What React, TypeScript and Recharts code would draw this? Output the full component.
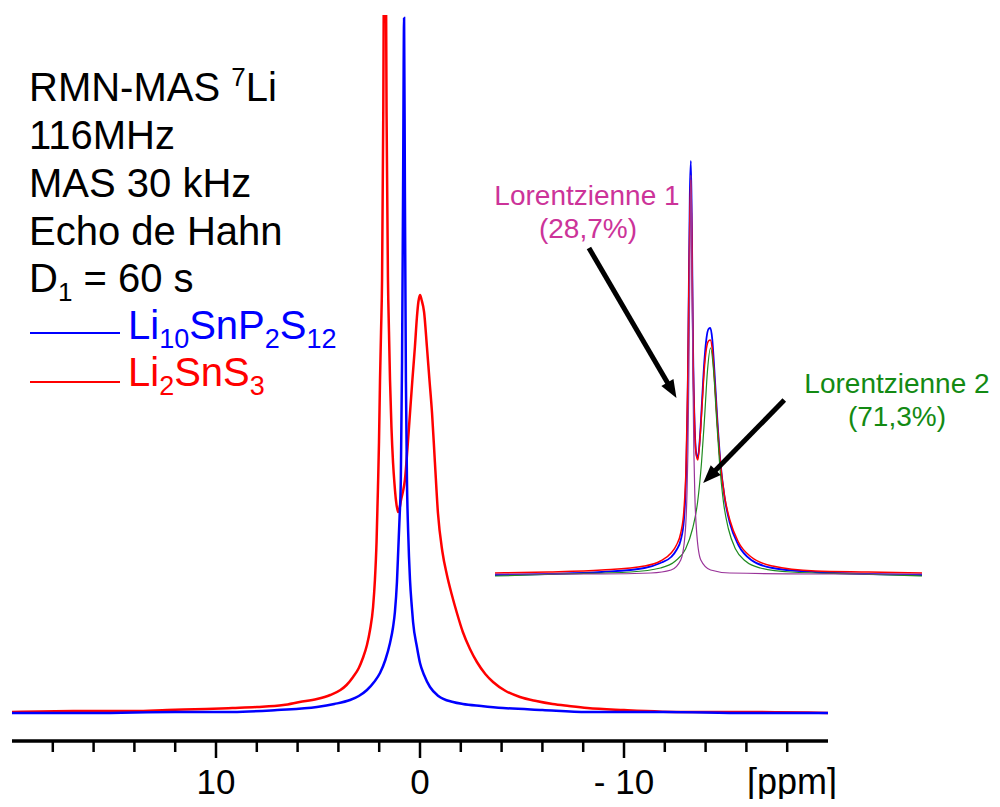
import React from "react";
import { LineChart, Line, XAxis, YAxis, ReferenceLine } from "recharts";

// 7Li MAS NMR spectra: [ppm, intensity]
const li10Main = [
  [20, -1], [16, -1], [12, 0], [9.2, 0], [7, 2], [5.05, 5], [4.2, 8], [3.43, 12], [3.0, 16],
  [2.6, 22], [2.25, 30], [1.96, 39], [1.7, 52], [1.47, 69], [1.32, 85], [1.23, 100], [1.13, 130],
  [1.06, 165], [1.0, 195], [0.94, 232], [0.88, 350], [0.83, 520], [0.78, 694], [0.74, 520],
  [0.69, 330], [0.64, 232], [0.58, 180], [0.49, 132], [0.4, 105], [0.34, 90], [0.15, 65], [0, 49],
  [-0.2, 37], [-0.49, 25], [-0.9, 16], [-1.62, 10], [-2.1, 8], [-3, 6], [-4.07, 4], [-6, 2],
  [-8.19, 0], [-12, 0], [-16, -1], [-20, -1],
];

const li2Main = [
  [20, 0], [17, 1], [14, 1], [12.4, 2], [10.5, 3], [9.2, 4], [8, 5], [6.7, 7], [5.9, 10], [5.05, 13],
  [4.4, 17], [3.9, 22], [3.6, 27], [3.28, 35], [3.0, 44], [2.8, 54], [2.6, 67], [2.45, 82], [2.3, 105],
  [2.21, 132], [2.13, 170], [2.06, 225], [2.01, 270], [1.96, 332], [1.91, 380], [1.86, 432], [1.8, 600],
  [1.76, 800], [1.72, 1000], [1.68, 800], [1.64, 600], [1.57, 432], [1.52, 380], [1.47, 332],
  [1.4, 285], [1.32, 249], [1.25, 228], [1.18, 212], [1.08, 200], [1.0, 204], [0.93, 212], [0.84, 220],
  [0.74, 232], [0.62, 262], [0.49, 299], [0.37, 333], [0.25, 365], [0.15, 395], [0.08, 410], [0, 417],
  [-0.08, 412], [-0.2, 400], [-0.34, 365], [-0.46, 333], [-0.59, 299], [-0.73, 250], [-0.88, 199],
  [-1.1, 160], [-1.32, 137], [-1.55, 118], [-1.81, 99], [-2.1, 80], [-2.45, 63], [-2.79, 50],
  [-3.2, 38], [-3.58, 30], [-4.2, 21], [-4.9, 15], [-5.7, 11], [-6.5, 8], [-7.3, 6], [-8.2, 4],
  [-10, 2], [-13.1, 0], [-16, 0], [-20, -1],
];

// inset: decomposition in two lorentzians
const li10Inset = [
  [20, 0], [15, 1], [10, 3], [6, 7], [4.5, 12], [3.5, 18], [3.0, 25], [2.6, 35], [2.3, 55], [2.1, 100],
  [1.95, 180], [1.85, 280], [1.75, 380], [1.65, 414], [1.55, 340], [1.45, 230], [1.3, 150], [1.15, 122],
  [1.0, 117], [0.8, 138], [0.6, 175], [0.4, 212], [0.2, 236], [0.0, 246], [-0.17, 247], [-0.35, 236],
  [-0.55, 205], [-0.8, 160], [-1.1, 115], [-1.5, 78], [-2.0, 52], [-2.8, 30], [-4.0, 15], [-6, 7],
  [-10, 3], [-15, 1], [-20, 0],
];

const fitInset = [
  [20, 2], [15, 3], [10, 5], [6, 9], [4.5, 14], [3.5, 22], [3.0, 30], [2.6, 42], [2.3, 65], [2.1, 110],
  [1.95, 190], [1.85, 280], [1.75, 360], [1.65, 395], [1.55, 330], [1.45, 225], [1.3, 150], [1.15, 120],
  [1.0, 115], [0.8, 136], [0.6, 170], [0.4, 205], [0.2, 226], [0.0, 234], [-0.17, 235], [-0.35, 226],
  [-0.55, 198], [-0.8, 156], [-1.1, 113], [-1.5, 79], [-2.0, 55], [-2.8, 33], [-4.0, 18], [-6, 9],
  [-10, 4], [-15, 3], [-20, 2],
];

const lorentz1 = [
  [20, 1], [10, 1], [5.4, 2], [3.5, 5], [2.6, 15], [2.2, 40], [2.02, 80], [1.93, 123], [1.84, 200],
  [1.74, 320], [1.65, 400], [1.56, 320], [1.46, 200], [1.37, 123], [1.28, 80], [1.09, 40], [0.72, 15],
  [-0.2, 5], [-2, 2], [-10, 1], [-20, 1],
];

const lorentz2 = [
  [20, -1], [14, 1], [7.3, 3], [4.5, 7], [3.1, 14], [2.15, 26], [1.5, 46], [1.02, 73], [0.65, 113],
  [0.37, 157], [0.09, 205], [-0.19, 227], [-0.47, 205], [-0.75, 157], [-1.03, 113], [-1.4, 73],
  [-1.87, 46], [-2.53, 26], [-3.46, 14], [-4.86, 7], [-7.7, 3], [-14, 1], [-20, -1],
];

// arrows in inset coordinates: [ppm, intensity] start -> tip
const arrow1 = [[11.2, 327], [3.0, 177]];
const arrow2 = [[-7.1, 175], [0.5, 92]];

const ppmTicks = [18, 16, 14, 12, 10, 8, 6, 4, 2, 0, -2, -4, -6, -8, -10, -12, -14, -16, -18];
const majorTicks = [10, 0, -10];

const FONT = "'Liberation Sans', Arial, sans-serif";

const toRows = (pts: number[][]) => pts.map(([ppm, v]) => ({ ppm, v }));

function PpmTick({ x, y, payload }: any) {
  const major = majorTicks.includes(payload.value);
  const label = payload.value < 0 ? `- ${Math.abs(payload.value)}` : `${payload.value}`;
  return (
    <g>
      <line x1={x} x2={x} y1={y - 1} y2={y + (major ? 17 : 11)} stroke="#000" strokeWidth={2.5} />
      {major && (
        <text x={x} y={y + 53} textAnchor="middle" fontSize={35} fontFamily={FONT} fill="#000">
          {label}
        </text>
      )}
    </g>
  );
}

function Arrow(props: any) {
  const { x1, y1, x2, y2 } = props;
  const dx = x2 - x1;
  const dy = y2 - y1;
  const len = Math.sqrt(dx * dx + dy * dy);
  const ux = dx / len;
  const uy = dy / len;
  const head = 18;
  const half = 7;
  const bx = x2 - ux * head;
  const by = y2 - uy * head;
  return (
    <g>
      <line x1={x1} y1={y1} x2={bx + ux * 2} y2={by + uy * 2} stroke="#000" strokeWidth={5} />
      <polygon
        points={`${x2},${y2} ${bx - uy * half},${by + ux * half} ${bx + uy * half},${by - ux * half}`}
        fill="#000"
      />
    </g>
  );
}

export default function App() {
  return (
    <div style={{ position: "relative", width: 1000, height: 807, margin: -8, background: "#fff", fontFamily: FONT }}>
      <div style={{ position: "absolute", left: 0, top: 0 }}>
        <LineChart width={1000} height={807} margin={{ top: 15, right: 172, left: 12, bottom: 0 }}>
          <XAxis
            type="number"
            dataKey="ppm"
            domain={[-20, 20]}
            reversed
            allowDataOverflow
            ticks={ppmTicks}
            interval={0}
            height={66}
            tickLine={false}
            tickSize={0}
            tickMargin={0}
            axisLine={{ stroke: "#000", strokeWidth: 3.5 }}
            tick={<PpmTick />}
          />
          <YAxis type="number" domain={[-29, 697]} allowDataOverflow hide />
          <Line data={toRows(li2Main)} dataKey="v" type="monotone" stroke="#ff0000" strokeWidth={2.5} dot={false} isAnimationActive={false} />
          <Line data={toRows(li10Main)} dataKey="v" type="monotone" stroke="#0000ff" strokeWidth={2.5} dot={false} isAnimationActive={false} />
        </LineChart>
      </div>

      <div style={{ position: "absolute", left: 495, top: 150 }}>
        <LineChart width={427} height={435} margin={{ top: 0, right: 0, left: 0, bottom: 0 }}>
          <XAxis type="number" dataKey="ppm" domain={[-20, 20]} reversed allowDataOverflow hide />
          <YAxis type="number" domain={[-10, 425]} allowDataOverflow hide />
          <Line data={toRows(li10Inset)} dataKey="v" type="monotone" stroke="#0000ff" strokeWidth={1.8} dot={false} isAnimationActive={false} />
          <Line data={toRows(fitInset)} dataKey="v" type="monotone" stroke="#ff0000" strokeWidth={1.5} dot={false} isAnimationActive={false} />
          <Line data={toRows(lorentz2)} dataKey="v" type="monotone" stroke="#1f8a1f" strokeWidth={1.2} dot={false} isAnimationActive={false} />
          <Line data={toRows(lorentz1)} dataKey="v" type="monotone" stroke="#993399" strokeWidth={1.2} dot={false} isAnimationActive={false} />
          <ReferenceLine
            segment={[{ x: arrow1[0][0], y: arrow1[0][1] }, { x: arrow1[1][0], y: arrow1[1][1] }]}
            ifOverflow="visible"
            shape={<Arrow />}
          />
          <ReferenceLine
            segment={[{ x: arrow2[0][0], y: arrow2[0][1] }, { x: arrow2[1][0], y: arrow2[1][1] }]}
            ifOverflow="visible"
            shape={<Arrow />}
          />
        </LineChart>
      </div>

      <svg width={1000} height={807} style={{ position: "absolute", left: 0, top: 0, pointerEvents: "none" }} fontFamily={FONT}>
        <g fontSize={40} fill="#000">
          <text x={29} y={101}>
            RMN-MAS <tspan fontSize={26} dy={-15}>7</tspan><tspan dy={15}>Li</tspan>
          </text>
          <text x={29} y={149}>116MHz</text>
          <text x={29} y={197}>MAS 30 kHz</text>
          <text x={29} y={245}>Echo de Hahn</text>
          <text x={29} y={292}>
            D<tspan fontSize={26} dy={9}>1</tspan><tspan dy={-9}> = 60 s</tspan>
          </text>
        </g>
        <line x1={30} x2={120} y1={333} y2={333} stroke="#0000ff" strokeWidth={2} />
        <text x={128} y={339} fontSize={40} fill="#0000ff">
          Li<tspan fontSize={27} dy={9}>10</tspan><tspan dy={-9}>SnP</tspan><tspan fontSize={27} dy={9}>2</tspan><tspan dy={-9}>S</tspan><tspan fontSize={27} dy={9}>12</tspan>
        </text>
        <line x1={30} x2={120} y1={382} y2={382} stroke="#ff0000" strokeWidth={2} />
        <text x={128} y={386} fontSize={40} fill="#ff0000">
          Li<tspan fontSize={27} dy={9}>2</tspan><tspan dy={-9}>SnS</tspan><tspan fontSize={27} dy={9}>3</tspan>
        </text>

        <g fontSize={28} fill="#cc3399" textAnchor="middle">
          <text x={587} y={205}>Lorentzienne 1</text>
          <text x={588} y={238}>(28,7%)</text>
        </g>
        <g fontSize={28} fill="#138a13" textAnchor="middle">
          <text x={897} y={393}>Lorentzienne 2</text>
          <text x={897} y={426}>(71,3%)</text>
        </g>

        <text x={792} y={794} fontSize={36} textAnchor="middle" fill="#000">[ppm]</text>
      </svg>
    </div>
  );
}
